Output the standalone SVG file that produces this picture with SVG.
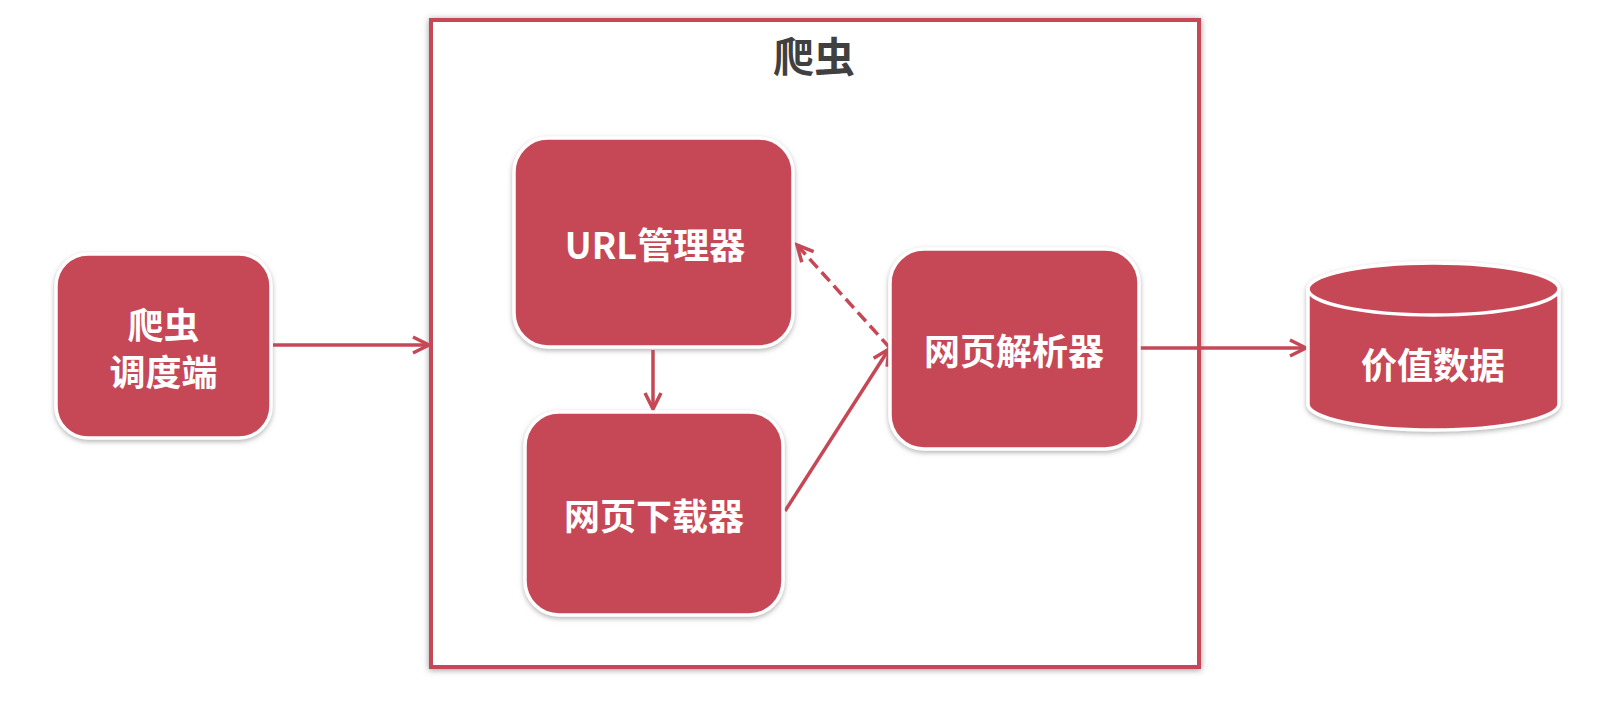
<svg xmlns="http://www.w3.org/2000/svg" width="1604" height="706" viewBox="0 0 1604 706">
<defs>
<style>
.node{fill:#C64756;stroke:#fff;stroke-width:3.5;filter:url(#sh)}
.lbl{fill:#fff;font-family:"Noto Sans CJK SC","Noto Sans",sans-serif;font-weight:bold;font-size:36px;text-anchor:middle;dominant-baseline:central}
.edge{stroke:#C64756;stroke-width:3.5;fill:none;marker-end:url(#arr)}
.dash{stroke-dasharray:12 6}
</style>
<filter id="sh" x="-10%" y="-10%" width="120%" height="125%">
<feDropShadow dx="0" dy="2" stdDeviation="2.5" flood-color="#777" flood-opacity="0.55"/>
</filter>
<filter id="fsh" x="-5%" y="-5%" width="110%" height="110%">
<feDropShadow dx="0" dy="1" stdDeviation="3" flood-color="#555" flood-opacity="0.6"/>
</filter>
<marker id="arr" markerUnits="userSpaceOnUse" markerWidth="22" markerHeight="20" refX="18" refY="9" orient="auto" overflow="visible">
<path d="M2,1 L18,9 L2,17" fill="none" stroke="#C64756" stroke-width="3.5" stroke-linejoin="miter"/>
</marker>
</defs>
<rect width="1604" height="706" fill="#fff"/>
<g id="frame">
<rect x="431" y="20" width="768" height="647" fill="#fff" stroke="#C64756" stroke-width="4" filter="url(#fsh)"/>
<text x="814" y="54" font-family="'Noto Sans CJK SC',sans-serif" font-weight="bold" font-size="41" fill="#404040" text-anchor="middle" dominant-baseline="central">爬虫</text>
</g>
<g id="connectors">
<line class="edge" x1="273" y1="345" x2="429" y2="345"/>
<line class="edge" x1="653" y1="350" x2="653" y2="409"/>
<line class="edge" x1="785" y1="511" x2="889" y2="349"/>
<line class="edge dash" x1="890" y1="348" x2="797" y2="245"/>
<line class="edge" x1="1140" y1="348" x2="1306" y2="348"/>
</g>
<g id="scheduler">
<rect class="node" x="56" y="254" width="215" height="184" rx="32"/>
<text class="lbl" x="163.5" y="323">爬虫</text>
<text class="lbl" x="163.5" y="370">调度端</text>
</g>
<g id="url-manager">
<rect class="node" x="514" y="138" width="279" height="209" rx="34"/>
<text class="lbl" x="655" y="243">URL管理器</text>
</g>
<g id="downloader">
<rect class="node" x="525" y="412" width="258" height="203" rx="34"/>
<text class="lbl" x="654" y="514">网页下载器</text>
</g>
<g id="parser">
<rect class="node" x="890" y="249" width="249" height="200" rx="34"/>
<text class="lbl" x="1014" y="349">网页解析器</text>
</g>
<g id="data">
<path class="node" d="M1308,289 A125.5,26 0 0 1 1559,289 L1559,404 A125.5,26 0 0 1 1308,404 Z"/>
<ellipse cx="1433.5" cy="289" rx="125.5" ry="26" fill="#C64756" stroke="#fff" stroke-width="3.5"/>
<text class="lbl" x="1433" y="363">价值数据</text>
</g>
</svg>
